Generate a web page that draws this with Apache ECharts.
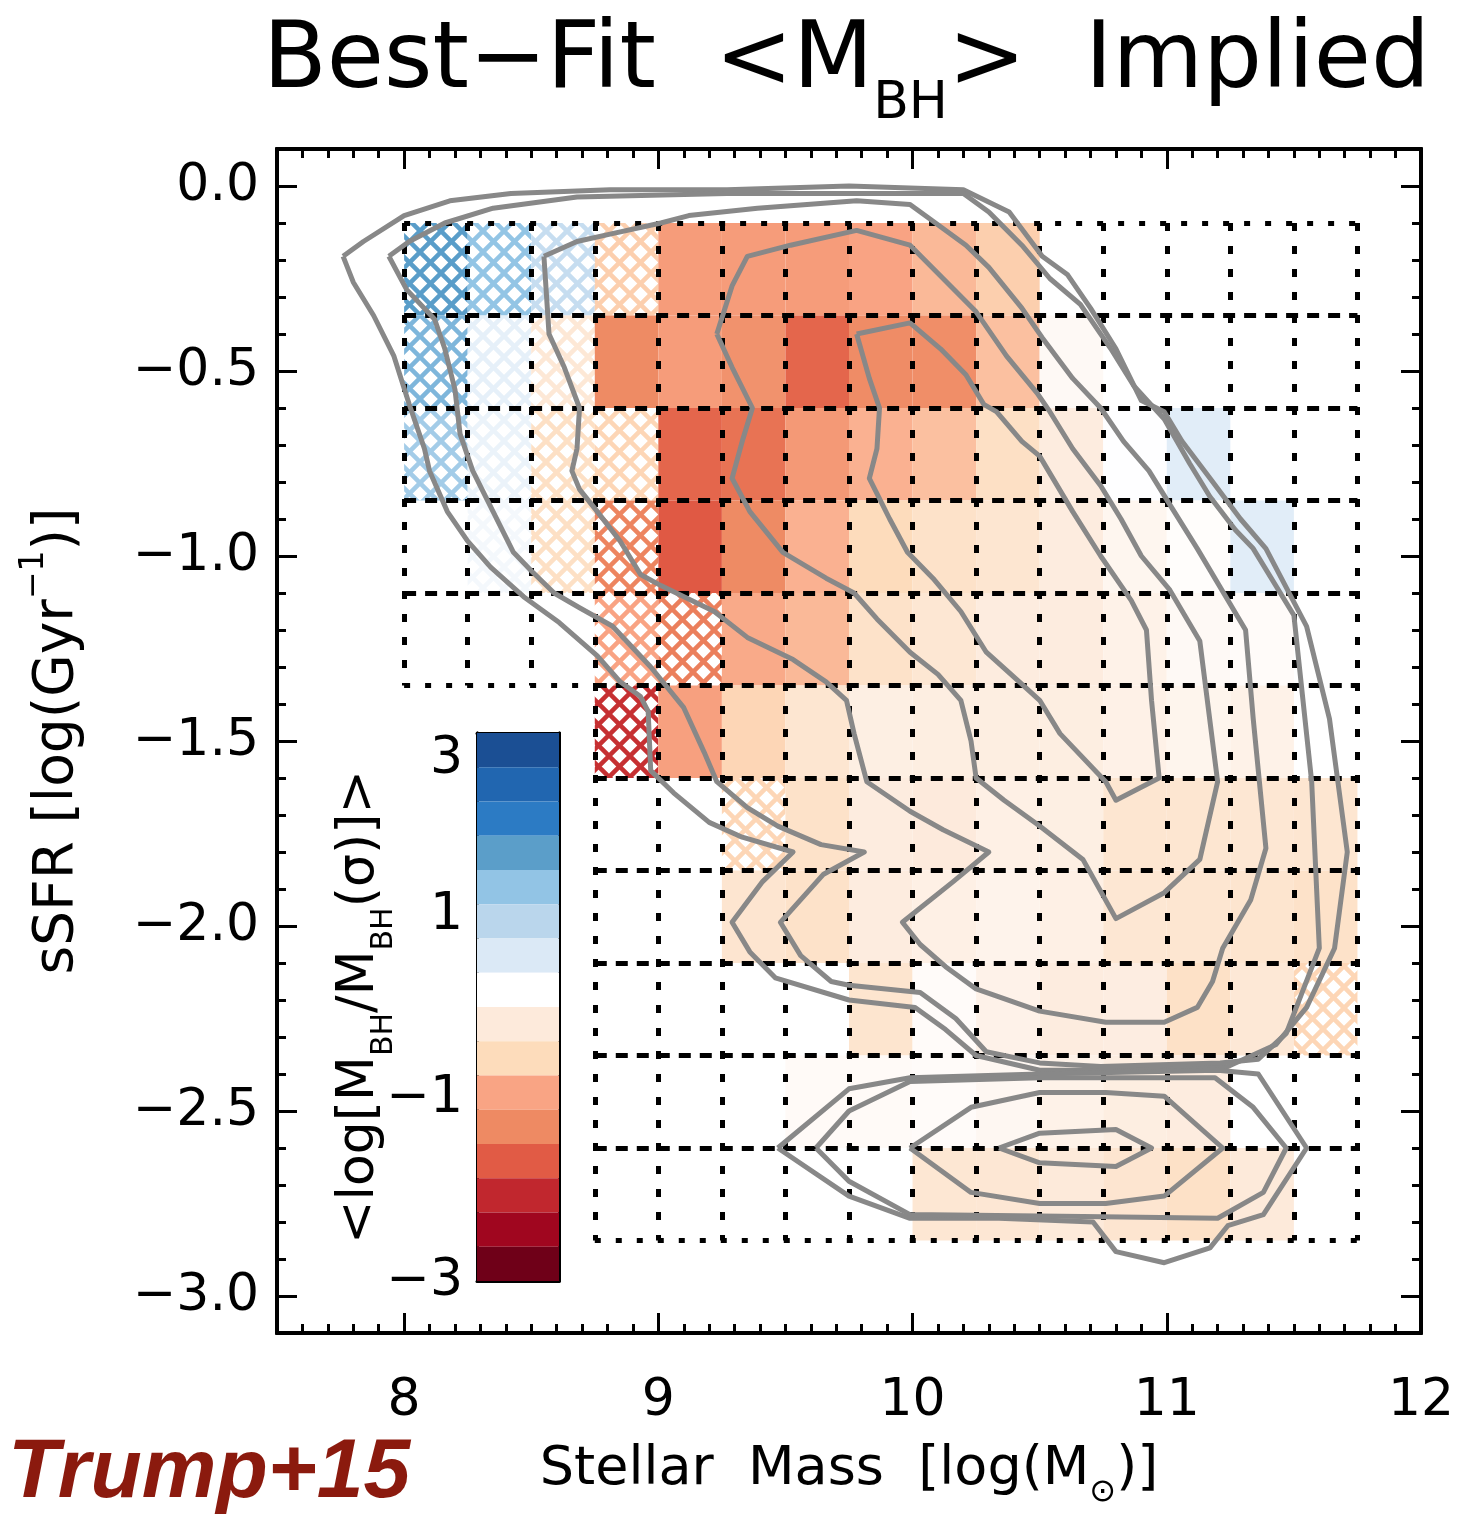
<!DOCTYPE html>
<html>
<head>
  <meta charset="utf-8" />
  <title>Best-Fit MBH Implied</title>
  <script src="https://cdn.jsdelivr.net/npm/echarts@6/dist/echarts.min.js"></script>
  <style>
    html, body { margin: 0; padding: 0; background: #fff; }
    #chart-main { width: 1460px; height: 1517px; }
  </style>
</head>
<body>
<div id="chart-main"></div>

<script type="text/javascript">
// bin edges of the boxes (log stellar mass / log sSFR)
var massEdges = [8.0, 8.25, 8.5, 8.75, 9.0, 9.25, 9.5, 9.75, 10.0, 10.25, 10.5, 10.75, 11.0, 11.25, 11.5, 11.75];
var ssfrEdges = [-0.1, -0.35, -0.6, -0.85, -1.1, -1.35, -1.6, -1.85, -2.1, -2.35, -2.6, -2.85];
// first mass bin that has a box, per sSFR row
var firstBin = [0, 0, 0, 0, 0, 3, 3, 3, 3, 3, 3];

// <log(MBH/MBH(sigma))> per box, rows top to bottom; null = empty box
var cellValues = [
  [1.7, 1.3, 0.8, -0.65, -1.05, -1.05, -1.05, -0.95, -0.8, -0.65, null, null, null, null, null],
  [1.45, 0.45, -0.25, -1.3, -1.05, -1.2, -1.6, -1.28, -1.25, -0.75, 0.08, null, null, null, null],
  [1.15, 0.4, -0.45, -0.6, -1.6, -1.5, -1.1, -0.85, -0.75, -0.45, -0.15, 0.2, 0.5, null, null],
  [null, 0.3, -0.45, -1.35, -1.7, -1.3, -0.85, -0.55, -0.4, -0.3, -0.15, 0.02, 0.15, 0.5, null],
  [null, null, null, -0.95, -1.4, -0.9, -0.8, -0.4, -0.28, -0.15, -0.15, -0.05, 0.08, 0.12, null],
  [null, null, null, -2.0, -1.0, -0.6, -0.3, -0.1, -0.12, -0.12, -0.12, -0.06, 0.0, -0.05, null],
  [null, null, null, null, null, -0.6, -0.4, -0.15, -0.18, -0.08, -0.1, -0.3, -0.3, -0.28, -0.3],
  [null, null, null, null, null, -0.32, -0.4, -0.15, -0.08, -0.02, -0.08, -0.28, -0.3, -0.33, -0.4],
  [null, null, null, null, null, null, null, -0.33, 0.12, -0.04, -0.15, -0.13, -0.42, -0.25, -0.6],
  [null, null, null, null, null, null, 0.1, 0.1, 0.12, 0.05, -0.05, -0.12, -0.15, null, null],
  [null, null, null, null, null, null, null, null, -0.28, -0.27, -0.2, -0.32, -0.42, -0.2, null]
];
// boxes with few objects (drawn cross-hatched): [row, bin]
var hatchedCells = [[0,0],[0,1],[0,2],[0,3],[1,0],[1,1],[1,2],[2,0],[2,1],[2,2],[2,3],
  [3,1],[3,2],[3,3],[4,3],[4,4],[5,3],[6,5],[8,14]];

var massTicks = [8, 9, 10, 11, 12];
var ssfrTicks = [0, -0.5, -1, -1.5, -2, -2.5, -3];
var barTicks = [3, 1, -1, -3];
var barMinorTicks = [2, 0, -2];
// colour bar levels, from +3 (top) down to -3
var barColors = ['#1b4f94', '#2166b0', '#2c7bc4', '#5b9ec9', '#92c4e5', '#bad6ec', '#dbe9f6', '#ffffff',
  '#fdeadb', '#fddcbb', '#f9a484', '#ee8a63', '#e15b45', '#c1272e', '#a0061f', '#6f0018'];

// density contours, star-forming cloud (outer to inner)
var sfContour1 = [[7.76,-0.19],[7.84,-0.15],[8.00,-0.08],[8.18,-0.04],[8.42,-0.02],[8.81,-0.01],[9.27,-0.01],[9.75,0.00],[10.20,-0.01],[10.38,-0.07],[10.51,-0.19],[10.61,-0.24],[10.70,-0.33],[10.80,-0.44],[10.90,-0.58],[10.99,-0.61],[11.06,-0.69],[11.17,-0.79],[11.29,-0.90],[11.39,-0.98],[11.55,-1.19],[11.64,-1.44],[11.71,-1.80],[11.66,-2.06],[11.55,-2.22],[11.43,-2.32],[11.24,-2.38],[10.74,-2.39],[10.50,-2.39],[10.25,-2.35],[10.13,-2.28],[10.01,-2.22],[9.75,-2.20],[9.46,-2.14],[9.36,-2.07],[9.29,-1.99],[9.41,-1.88],[9.53,-1.80],[9.33,-1.76],[9.20,-1.72],[9.06,-1.64],[8.97,-1.58],[8.96,-1.42],[8.93,-1.38],[8.85,-1.34],[8.76,-1.27],[8.61,-1.18],[8.47,-1.11],[8.34,-1.03],[8.25,-0.96],[8.17,-0.88],[8.10,-0.77],[8.08,-0.71],[8.02,-0.59],[7.96,-0.46],[7.88,-0.35],[7.80,-0.26],[7.76,-0.19]];
var sfContour2 = [[7.94,-0.19],[8.02,-0.15],[8.16,-0.10],[8.35,-0.06],[8.68,-0.03],[9.27,-0.02],[9.75,-0.02],[10.20,-0.02],[10.30,-0.07],[10.43,-0.16],[10.54,-0.25],[10.66,-0.32],[10.78,-0.44],[10.87,-0.54],[10.99,-0.63],[11.09,-0.75],[11.17,-0.84],[11.27,-0.93],[11.34,-0.98],[11.50,-1.16],[11.57,-1.61],[11.60,-2.06],[11.47,-2.29],[11.36,-2.36],[11.21,-2.37],[10.74,-2.38],[10.50,-2.37],[10.29,-2.34],[10.17,-2.25],[10.03,-2.18],[9.75,-2.16],[9.68,-2.15],[9.56,-2.08],[9.48,-1.99],[9.65,-1.86],[9.81,-1.80],[9.64,-1.78],[9.47,-1.73],[9.35,-1.68],[9.23,-1.61],[9.18,-1.53],[9.10,-1.41],[8.97,-1.30],[8.82,-1.19],[8.69,-1.14],[8.59,-1.10],[8.50,-1.04],[8.43,-0.99],[8.35,-0.88],[8.27,-0.77],[8.22,-0.67],[8.20,-0.55],[8.16,-0.44],[8.12,-0.36],[8.01,-0.28],[7.94,-0.19]];
var sfContour3 = [[8.55,-0.19],[8.68,-0.15],[8.81,-0.13],[9.01,-0.10],[9.12,-0.08],[9.39,-0.06],[9.78,-0.04],[9.99,-0.05],[10.07,-0.09],[10.21,-0.16],[10.30,-0.22],[10.43,-0.33],[10.51,-0.41],[10.63,-0.52],[10.74,-0.60],[10.83,-0.69],[10.93,-0.77],[11.02,-0.87],[11.12,-0.98],[11.31,-1.20],[11.34,-1.44],[11.39,-1.79],[11.33,-1.93],[11.22,-2.06],[11.18,-2.15],[11.12,-2.22],[10.99,-2.26],[10.76,-2.26],[10.50,-2.23],[10.25,-2.17],[10.13,-2.11],[10.03,-2.05],[9.96,-1.99],[10.16,-1.88],[10.30,-1.80],[10.12,-1.74],[9.99,-1.69],[9.82,-1.61],[9.77,-1.48],[9.74,-1.39],[9.66,-1.34],[9.53,-1.28],[9.35,-1.22],[9.22,-1.15],[9.01,-1.08],[8.93,-1.05],[8.85,-0.96],[8.76,-0.88],[8.69,-0.82],[8.66,-0.77],[8.68,-0.71],[8.69,-0.60],[8.63,-0.49],[8.57,-0.40],[8.55,-0.19]];
var sfContour4 = [[9.23,-0.40],[9.29,-0.27],[9.35,-0.19],[9.52,-0.16],[9.78,-0.12],[9.99,-0.16],[10.12,-0.25],[10.25,-0.34],[10.37,-0.46],[10.49,-0.56],[10.54,-0.61],[10.63,-0.71],[10.74,-0.81],[10.82,-0.90],[10.90,-1.00],[11.01,-1.09],[11.13,-1.23],[11.20,-1.61],[11.13,-1.82],[10.99,-1.91],[10.80,-1.98],[10.67,-1.82],[10.50,-1.73],[10.36,-1.66],[10.25,-1.60],[10.23,-1.50],[10.19,-1.39],[10.10,-1.32],[9.99,-1.26],[9.86,-1.17],[9.77,-1.10],[9.66,-1.06],[9.49,-0.99],[9.36,-0.88],[9.29,-0.79],[9.33,-0.69],[9.37,-0.60],[9.29,-0.49],[9.23,-0.40]];
var sfContour5 = [[9.78,-0.40],[9.99,-0.37],[10.11,-0.44],[10.21,-0.51],[10.28,-0.59],[10.33,-0.61],[10.43,-0.69],[10.50,-0.73],[10.63,-0.88],[10.74,-1.00],[10.86,-1.12],[10.92,-1.20],[10.94,-1.39],[10.97,-1.60],[10.80,-1.66],[10.76,-1.61],[10.58,-1.48],[10.50,-1.39],[10.42,-1.34],[10.29,-1.26],[10.19,-1.15],[10.08,-1.06],[9.98,-0.99],[9.91,-0.90],[9.83,-0.79],[9.86,-0.71],[9.87,-0.60],[9.83,-0.52],[9.78,-0.40]];
// quiescent cloud (outer to inner)
var qContour1 = [[9.47,-2.60],[9.75,-2.44],[9.99,-2.41],[10.50,-2.40],[11.20,-2.39],[11.36,-2.40],[11.55,-2.60],[11.38,-2.78],[11.24,-2.81],[11.17,-2.87],[10.99,-2.91],[10.80,-2.88],[10.71,-2.80],[10.34,-2.79],[9.99,-2.79],[9.75,-2.73],[9.47,-2.60]];
var qContour2 = [[9.62,-2.60],[9.75,-2.50],[9.99,-2.42],[10.50,-2.41],[11.19,-2.41],[11.34,-2.49],[11.47,-2.60],[11.38,-2.72],[11.20,-2.79],[10.67,-2.785],[9.99,-2.78],[9.75,-2.69],[9.62,-2.60]];
var qContour3 = [[9.99,-2.60],[10.23,-2.49],[10.50,-2.45],[10.76,-2.45],[10.99,-2.46],[11.22,-2.60],[10.99,-2.73],[10.76,-2.75],[10.50,-2.75],[10.23,-2.72],[9.99,-2.60]];
var qContour4 = [[10.34,-2.60],[10.50,-2.56],[10.80,-2.55],[10.94,-2.60],[10.80,-2.65],[10.50,-2.64],[10.34,-2.60]];

var FONT = 'DejaVu Sans';
var MINUS = '\u2212';

function hexRgb(h) {
  return [parseInt(h.slice(1, 3), 16), parseInt(h.slice(3, 5), 16), parseInt(h.slice(5, 7), 16)];
}

// continuous lookup into the colour bar levels
function valueColor(v) {
  var step = 6 / barColors.length;
  var t = (3 - v) / step - 0.5;
  t = Math.max(0, Math.min(barColors.length - 1, t));
  var i = Math.min(Math.floor(t), barColors.length - 2), f = t - i;
  var a = hexRgb(barColors[i]), b = hexRgb(barColors[i + 1]);
  var c = a.map(function (x, k) { return Math.round(x + (b[k] - x) * f); });
  return 'rgb(' + c.join(',') + ')';
}

var patterns = {};
function hatchFill(color) {
  if (patterns[color]) return patterns[color];
  var s = 21, cv = document.createElement('canvas');
  cv.width = s; cv.height = s;
  var g = cv.getContext('2d');
  g.fillStyle = '#fff'; g.fillRect(0, 0, s, s);
  g.strokeStyle = color; g.lineWidth = 4.5;
  for (var k = -1; k <= 1; k++) {
    g.beginPath(); g.moveTo(k * s, 0); g.lineTo(k * s + s, s); g.stroke();
    g.beginPath(); g.moveTo(k * s + s, 0); g.lineTo(k * s, s); g.stroke();
  }
  patterns[color] = { image: cv, repeat: 'repeat' };
  return patterns[color];
}

function isHatched(r, c) {
  return hatchedCells.some(function (p) { return p[0] === r && p[1] === c; });
}

// boxes
var cellData = [];
for (var r = 0; r < cellValues.length; r++) {
  for (var c = 0; c < cellValues[r].length; c++) {
    var v = cellValues[r][c];
    if (v === null) continue;
    cellData.push([massEdges[c], ssfrEdges[r], massEdges[c + 1], ssfrEdges[r + 1], v, isHatched(r, c) ? 1 : 0]);
  }
}

// dotted / dashed box outlines
var dotV = { color: '#000', width: 5, type: [8, 15], opacity: 1 };
var dotH = { color: '#000', width: 5, type: [6, 15], opacity: 1 };
var dashH = { color: '#000', width: 5, type: [12, 9], opacity: 1 };
var nRows = cellValues.length, nBins = massEdges.length - 1;
var boxLines = [];
for (var i = 0; i <= nBins; i++) {
  var last = -1;
  for (var r2 = 0; r2 < nRows; r2++) if (firstBin[r2] <= i) last = r2;
  boxLines.push({ coords: [[massEdges[i], ssfrEdges[0]], [massEdges[i], ssfrEdges[last + 1]]], lineStyle: dotV });
}
for (var j = 0; j <= nRows; j++) {
  var seg = null;
  for (var c2 = 0; c2 < nBins; c2++) {
    var above = j > 0 && c2 >= firstBin[j - 1];
    var below = j < nRows && c2 >= firstBin[j];
    var kind = (above && below) ? 'dash' : ((above || below) ? 'dot' : null);
    if (seg && seg.kind === kind) { seg.x1 = massEdges[c2 + 1]; continue; }
    if (seg && seg.kind) boxLines.push({ coords: [[seg.x0, ssfrEdges[j]], [seg.x1, ssfrEdges[j]]], lineStyle: seg.kind === 'dash' ? dashH : dotH });
    seg = { kind: kind, x0: massEdges[c2], x1: massEdges[c2 + 1] };
  }
  if (seg && seg.kind) boxLines.push({ coords: [[seg.x0, ssfrEdges[j]], [seg.x1, ssfrEdges[j]]], lineStyle: seg.kind === 'dash' ? dashH : dotH });
}

function steps(a, b, d) {
  var out = [];
  for (var k = Math.round(a / d); k <= Math.round(b / d); k++) out.push(Math.round(k * d * 100) / 100);
  return out;
}

var barData = barColors.map(function (col, k) {
  var step = 6 / barColors.length;
  return [3 - step * (k + 1), 3 - step * k, k];
});

var labelStyle = { fontFamily: FONT, fontSize: 52, color: '#000' };
var frame = { show: true, onZero: false, lineStyle: { color: '#000', width: 4 } };
function tickStyle(len, values) {
  return { show: true, inside: true, length: len, customValues: values, lineStyle: { color: '#000', width: 3 } };
}

function massAxis(pos, major, withLabel) {
  return {
    type: 'value', gridIndex: 0, position: pos, min: 7.5, max: 12,
    axisLine: frame, splitLine: { show: false },
    axisTick: major ? tickStyle(20, massTicks) : tickStyle(9, steps(7.6, 11.9, 0.1)),
    axisLabel: withLabel ? Object.assign({ show: true, margin: 42, customValues: massTicks }, labelStyle) : { show: false }
  };
}
function ssfrAxis(pos, major, withLabel) {
  return {
    type: 'value', gridIndex: 0, position: pos, min: -3.1, max: 0.1,
    axisLine: frame, splitLine: { show: false },
    axisTick: major ? tickStyle(20, ssfrTicks) : tickStyle(9, steps(-3.0, 0.0, 0.1)),
    axisLabel: withLabel ? Object.assign({
      show: true, margin: 18, customValues: ssfrTicks,
      formatter: function (v) { return v.toFixed(1).replace('-', MINUS); }
    }, labelStyle) : { show: false }
  };
}
function barAxis(pos, major, withLabel) {
  return {
    type: 'value', gridIndex: 1, position: pos, min: -3, max: 3,
    axisLine: { show: true, onZero: false, lineStyle: { color: '#000', width: 3 } }, splitLine: { show: false },
    axisTick: major ? tickStyle(16, barTicks) : tickStyle(8, barMinorTicks),
    axisLabel: withLabel ? Object.assign({
      show: true, margin: 14, customValues: barTicks,
      verticalAlignMinLabel: 'top',
      formatter: function (v) { return String(v).replace('-', MINUS); }
    }, labelStyle) : { show: false }
  };
}

var xMain = massAxis('bottom', true, true);
xMain.name = '{n|Stellar  Mass  [log(M}{s|\u2299}{n|)]}';
xMain.nameLocation = 'middle';
xMain.nameGap = 110;
xMain.nameTextStyle = { rich: {
  n: { fontFamily: FONT, fontSize: 54, color: '#000', lineHeight: 66, verticalAlign: 'top' },
  s: { fontFamily: FONT, fontSize: 32, color: '#000', lineHeight: 32, padding: [34, 0, 0, 0], verticalAlign: 'top' }
} };

var yMain = ssfrAxis('left', true, true);
yMain.name = '{n|sSFR [log(Gyr}{p|\u22121}{n|)]}';
yMain.nameLocation = 'middle';
yMain.nameRotate = 90;
yMain.nameGap = 192;
yMain.nameTextStyle = { rich: {
  n: { fontFamily: FONT, fontSize: 55, color: '#000', lineHeight: 66, verticalAlign: 'bottom' },
  p: { fontFamily: FONT, fontSize: 33, color: '#000', lineHeight: 33, padding: [0, 0, 34, 0], verticalAlign: 'bottom' }
} };

var yBar = barAxis('left', true, true);
yBar.name = '{n|<log[M}{s|BH}{n|/M}{s|BH}{n|(\u03c3)]>}';
yBar.nameLocation = 'middle';
yBar.nameRotate = 90;
yBar.nameGap = 82;
yBar.nameMoveOverlap = false;
yBar.nameTextStyle = { rich: {
  n: { fontFamily: FONT, fontSize: 52, color: '#000', lineHeight: 62, verticalAlign: 'top' },
  s: { fontFamily: FONT, fontSize: 30, color: '#000', lineHeight: 30, padding: [36, 0, 0, 0], verticalAlign: 'top' }
} };

var barEdgeAxis = function (pos) {
  return { type: 'value', gridIndex: 1, position: pos, min: 0, max: 1,
    axisLine: { show: true, onZero: false, lineStyle: { color: '#000', width: 3 } },
    axisTick: { show: false }, axisLabel: { show: false }, splitLine: { show: false } };
};

function contourSeries(data) {
  return {
    type: 'line', xAxisIndex: 0, yAxisIndex: 0, data: data, showSymbol: false, symbol: 'none',
    smooth: false, silent: true, z: 5, animation: false,
    lineStyle: { color: '#888888', width: 5, join: 'round' }
  };
}

var option = {
  backgroundColor: '#fff',
  animation: false,
  title: {
    text: '{n|Best\u2212Fit  <M}{s|BH}{n|>  Implied}',
    left: 258, top: 11,
    textStyle: { rich: {
      n: { fontFamily: FONT, fontSize: 93, fontWeight: 'normal', color: '#000', lineHeight: 106, verticalAlign: 'top' },
      s: { fontFamily: FONT, fontSize: 52, fontWeight: 'normal', color: '#000', lineHeight: 52, padding: [62, 0, 0, 0], verticalAlign: 'top' }
    } }
  },
  grid: [
    { left: 277, top: 149, width: 1144, height: 1184, containLabel: false },
    { left: 477, top: 733, width: 82, height: 548, containLabel: false }
  ],
  xAxis: [
    xMain, massAxis('bottom', false, false), massAxis('top', true, false), massAxis('top', false, false),
    barEdgeAxis('bottom'), barEdgeAxis('top')
  ],
  yAxis: [
    yMain, ssfrAxis('left', false, false), ssfrAxis('right', true, false), ssfrAxis('right', false, false),
    yBar, barAxis('left', false, false), barAxis('right', true, false), barAxis('right', false, false)
  ],
  graphic: [{
    type: 'text', left: 8, top: 1432,
    style: { text: 'Trump+15', fill: '#8b1a0e',
      font: 'italic bold 84px "Liberation Sans Narrow", "Liberation Sans", sans-serif' }
  }],
  series: [
    {
      type: 'custom', xAxisIndex: 0, yAxisIndex: 0, data: cellData, z: 2, silent: true,
      encode: { x: [0, 2], y: [1, 3] },
      renderItem: function (params, api) {
        var p0 = api.coord([api.value(0), api.value(1)]);
        var p1 = api.coord([api.value(2), api.value(3)]);
        var col = valueColor(api.value(4));
        return { type: 'rect',
          shape: { x: p0[0], y: p0[1], width: p1[0] - p0[0], height: p1[1] - p0[1] },
          style: { fill: api.value(5) ? hatchFill(col) : col } };
      }
    },
    {
      type: 'lines', coordinateSystem: 'cartesian2d', xAxisIndex: 0, yAxisIndex: 0,
      data: boxLines, z: 3, silent: true, symbol: 'none'
    },
    contourSeries(sfContour1), contourSeries(sfContour2), contourSeries(sfContour3),
    contourSeries(sfContour4), contourSeries(sfContour5),
    contourSeries(qContour1), contourSeries(qContour2), contourSeries(qContour3), contourSeries(qContour4),
    {
      type: 'custom', xAxisIndex: 4, yAxisIndex: 4, data: barData, z: 6, silent: true,
      encode: { y: [0, 1] },
      renderItem: function (params, api) {
        var p0 = api.coord([0, api.value(1)]);
        var p1 = api.coord([1, api.value(0)]);
        return { type: 'rect',
          shape: { x: p0[0], y: p0[1], width: p1[0] - p0[0], height: p1[1] - p0[1] },
          style: { fill: barColors[api.value(2)] } };
      }
    }
  ]
};

var myChart = echarts.init(document.getElementById('chart-main'), null, { renderer: 'canvas' });
myChart.setOption(option);
</script>
</body>
</html>
